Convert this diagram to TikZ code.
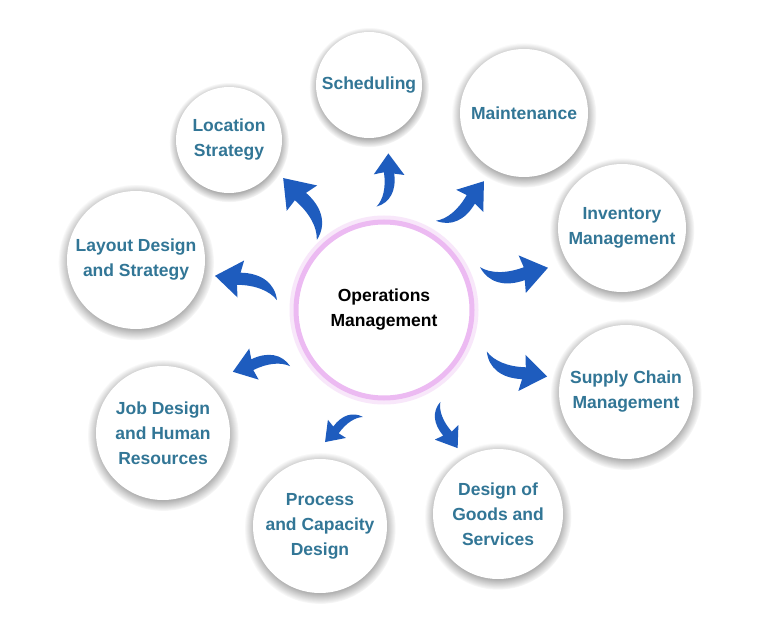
\documentclass[tikz,border=0pt]{standalone}
\usepackage{fontspec}
\setmainfont{Liberation Sans}
\usepackage{tikz}
\usetikzlibrary{shadows}

\definecolor{topicblue}{RGB}{50,118,150}
\definecolor{arrowblue}{RGB}{30,92,190}
\definecolor{ringpink}{RGB}{236,186,242}

\tikzset{swoosh/.pic={
  \fill[arrowblue] (-31,8) .. controls (-23,0) and (-9,-4) .. (9,-2)
    -- (7,10) -- (31,-8) -- (5,-26) -- (7,-14)
    .. controls (-13,-16) and (-27,-8) .. (-31,8) -- cycle;
}}

\begin{document}
\begin{tikzpicture}[x=1pt,y=1pt,semithick]
  \tikzstyle{topic}=[circle,fill=white,inner sep=0pt,align=center,text=topicblue,
                     font=\bfseries\fontsize{17.5}{25}\selectfont,
                     circular drop shadow={shadow xshift=0pt,shadow yshift=-2pt,
                                           shadow scale=1.13,fill=black!70,opacity=0.45}]
  \useasboundingbox (0,0) rectangle (768,625);
  \fill[white] (0,0) rectangle (768,625);

  \node[circle,fill=white,inner sep=0pt,minimum size=176pt,align=center,
        font=\bfseries\fontsize{17.5}{25}\selectfont,
        preaction={draw=ringpink!35,line width=13pt},
        draw=ringpink,line width=5pt] (om) at (384,315) {Operations\\Management};

  \node[topic,minimum size=106pt] (sch) at (369,540) {Scheduling};
  \node[topic,minimum size=128pt] (mnt) at (524,512) {Maintenance};
  \node[topic,minimum size=128pt] (inv) at (622,397) {Inventory\\Management};
  \node[topic,minimum size=134pt] (sup) at (626,233) {Supply Chain\\Management};
  \node[topic,minimum size=130pt] (dgs) at (498,111) {Design of\\Goods and\\Services};
  \node[topic,minimum size=134pt] (pcd) at (320,99)  {Process\\and Capacity\\Design};
  \node[topic,minimum size=134pt] (job) at (163,192) {Job Design\\and Human\\Resources};
  \node[topic,minimum size=138pt] (lay) at (136,365) {Layout Design\\and Strategy};
  \node[topic,minimum size=106pt] (loc) at (229,485) {Location\\Strategy};

  % curved arrows out of the centre
  \pic[rotate=92,scale=0.85]  at (382.5,445) {swoosh};
  \pic[rotate=54,scale=0.97]  at (460,424)   {swoosh};
  \pic[rotate=14,scale=1.06]  at (514,357.5) {swoosh};
  \pic[rotate=-8,scale=1.02]  at (517,261)   {swoosh};
  \pic[rotate=-55,scale=0.77] at (449,200)   {swoosh};
  \pic[rotate=228,scale=0.71] at (344,195.5) {swoosh};
  \pic[rotate=200,scale=0.9]  at (261.5,256) {swoosh};
  \pic[rotate=173,scale=1.04] at (246,337)   {swoosh};
  \pic[rotate=133,scale=1.1]  at (300,416)   {swoosh};
\end{tikzpicture}
\end{document}
